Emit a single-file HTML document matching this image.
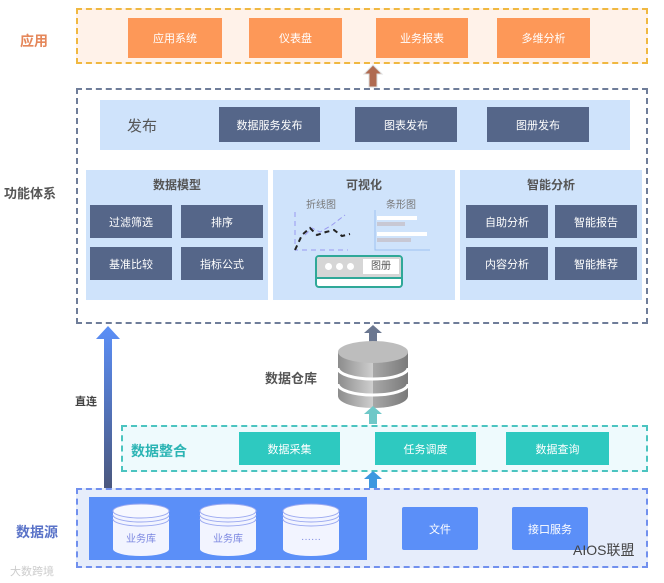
<!DOCTYPE html>
<html><head><meta charset="utf-8"><style>
*{margin:0;padding:0;box-sizing:border-box}
body{width:664px;height:583px;background:#fff;position:relative;overflow:hidden;font-family:"Liberation Sans","Noto Sans CJK SC",sans-serif}
.a{position:absolute}
.c{display:flex;align-items:center;justify-content:center;color:#fff;font-size:11px}
.or{background:#fd9858}
.dk{background:#556689}
.tl{background:#2ec9c0}
.bl{background:#5b8ff8}
.lb{font-weight:bold;font-size:13px}
</style></head><body>
<!-- app -->
<div class="a" style="left:76px;top:8px;width:572px;height:56px;border:2px dashed #f0b840;background:#fff2e9"></div>
<div class="a c or" style="left:128px;top:18px;width:94px;height:40px">应用系统</div>
<div class="a c or" style="left:249px;top:18px;width:93px;height:40px">仪表盘</div>
<div class="a c or" style="left:376px;top:18px;width:92px;height:40px">业务报表</div>
<div class="a c or" style="left:497px;top:18px;width:93px;height:40px">多维分析</div>
<div class="a lb" style="left:20px;top:31px;color:#e5875a;font-size:14px">应用</div>
<svg class="a" style="left:362px;top:64px" width="22" height="24"><polygon points="11,1 20,10 15,10 15,23 7,23 7,10 2,10" fill="#b06a50" stroke="#ddd"/></svg>
<!-- function -->
<div class="a" style="left:76px;top:88px;width:572px;height:236px;border:2px dashed #6f7d99"></div>
<div class="a lb" style="left:4px;top:183px;color:#555">功能体系</div>
<div class="a" style="left:100px;top:100px;width:530px;height:50px;background:#cfe3fb"></div>
<div class="a" style="left:127px;top:115px;font-size:15px;color:#555">发布</div>
<div class="a c dk" style="left:219px;top:107px;width:101px;height:35px">数据服务发布</div>
<div class="a c dk" style="left:355px;top:107px;width:102px;height:35px">图表发布</div>
<div class="a c dk" style="left:487px;top:107px;width:102px;height:35px">图册发布</div>
<div class="a" style="left:86px;top:170px;width:182px;height:130px;background:#cfe3fb"></div>
<div class="a" style="left:273px;top:170px;width:182px;height:130px;background:#cfe3fb"></div>
<div class="a" style="left:460px;top:170px;width:182px;height:130px;background:#cfe3fb"></div>
<div class="a" style="left:86px;top:176px;width:182px;text-align:center;font-size:12px;color:#555;font-weight:bold">数据模型</div>
<div class="a" style="left:273px;top:176px;width:182px;text-align:center;font-size:12px;color:#555;font-weight:bold">可视化</div>
<div class="a" style="left:460px;top:176px;width:182px;text-align:center;font-size:12px;color:#555;font-weight:bold">智能分析</div>
<div class="a c dk" style="left:90px;top:205px;width:82px;height:33px">过滤筛选</div>
<div class="a c dk" style="left:181px;top:205px;width:82px;height:33px">排序</div>
<div class="a c dk" style="left:90px;top:247px;width:82px;height:33px">基准比较</div>
<div class="a c dk" style="left:181px;top:247px;width:82px;height:33px">指标公式</div>
<div class="a c dk" style="left:466px;top:205px;width:82px;height:33px">自助分析</div>
<div class="a c dk" style="left:555px;top:205px;width:82px;height:33px">智能报告</div>
<div class="a c dk" style="left:466px;top:247px;width:82px;height:33px">内容分析</div>
<div class="a c dk" style="left:555px;top:247px;width:82px;height:33px">智能推荐</div>
<div class="a" style="left:306px;top:196px;font-size:10px;color:#777">折线图</div>
<div class="a" style="left:386px;top:196px;font-size:10px;color:#777">条形图</div>
<svg class="a" style="left:290px;top:210px" width="150" height="50">
<path d="M5,2 V40 H58" stroke="#9a9af0" stroke-dasharray="5,4" fill="none"/>
<path d="M15,25 L22,18 L30,22 L42,15 L55,5" stroke="#9a9af0" stroke-dasharray="5,3" fill="none"/>
<path d="M5,40 L12,25 L20,18 L27,25 L36,22 L44,20 L52,26 L60,24" stroke="#222" stroke-width="2" stroke-dasharray="5,4" fill="none"/>
<path d="M85,0 V40 H140" stroke="#9cc0f0" fill="none"/>
<rect x="87" y="6" width="40" height="4" fill="#fff"/><rect x="87" y="12" width="28" height="4" fill="#c8c8d4"/>
<rect x="87" y="22" width="50" height="4" fill="#fff"/><rect x="87" y="28" width="34" height="4" fill="#c8c8d4"/>
</svg>
<div class="a" style="left:315px;top:255px;width:88px;height:33px;border:2px solid #2fa898;border-radius:4px;background:#fff;overflow:hidden">
<div style="height:20px;background:#d6d6d6;position:relative">
<span style="position:absolute;left:8px;top:6px;width:7px;height:7px;border-radius:50%;background:#fff"></span>
<span style="position:absolute;left:19px;top:6px;width:7px;height:7px;border-radius:50%;background:#fff"></span>
<span style="position:absolute;left:30px;top:6px;width:7px;height:7px;border-radius:50%;background:#fff"></span>
<span style="position:absolute;left:46px;top:2px;width:36px;height:15px;background:#fff;font-size:10px;color:#555;text-align:center;line-height:15px">图册</span>
</div><div style="height:2px;background:#2fa898"></div></div>
<!-- direct arrow -->
<svg class="a" style="left:95px;top:325px" width="26" height="172"><defs><linearGradient id="g" x1="0" y1="0" x2="0" y2="1"><stop offset="0" stop-color="#5b8ff8"/><stop offset="1" stop-color="#4a5578"/></linearGradient></defs>
<polygon points="13,1 25,14 17,14 17,171 9,171 9,14 1,14" fill="url(#g)"/></svg>
<div class="a" style="left:75px;top:393px;font-size:11px;font-weight:bold;color:#444">直连</div>
<!-- warehouse -->
<svg class="a" style="left:362px;top:324px" width="22" height="20"><polygon points="11,1 20,9 15,9 15,19 7,19 7,9 2,9" fill="#6b7790"/></svg>
<div class="a lb" style="left:265px;top:368px;color:#555">数据仓库</div>
<svg class="a" style="left:336px;top:340px" width="74" height="70">
<defs><linearGradient id="cy" x1="0" x2="1"><stop offset="0" stop-color="#8c8c8c"/><stop offset=".5" stop-color="#cfcfcf"/><stop offset=".5" stop-color="#a8a8a8"/><stop offset="1" stop-color="#7a7a7a"/></linearGradient></defs>
<path d="M2,12 V56 A35,12 0 0 0 72,56 V12" fill="url(#cy)"/>
<ellipse cx="37" cy="12" rx="35" ry="11" fill="#bdbdbd"/>
<path d="M2,28 A35,11 0 0 0 72,28" stroke="#fff" stroke-width="3" fill="none"/>
<path d="M2,44 A35,11 0 0 0 72,44" stroke="#fff" stroke-width="3" fill="none"/>
</svg>
<svg class="a" style="left:362px;top:405px" width="22" height="20"><polygon points="11,1 20,9 15,9 15,19 7,19 7,9 2,9" fill="#6fc8c8"/></svg>
<!-- integration -->
<div class="a" style="left:121px;top:425px;width:527px;height:47px;border:2px dashed #4bc4c0;background:#eefafd"></div>
<div class="a lb" style="left:131px;top:441px;color:#2bb4b4;font-size:14px">数据整合</div>
<div class="a c tl" style="left:239px;top:432px;width:101px;height:33px">数据采集</div>
<div class="a c tl" style="left:375px;top:432px;width:101px;height:33px">任务调度</div>
<div class="a c tl" style="left:506px;top:432px;width:103px;height:33px">数据查询</div>
<svg class="a" style="left:362px;top:470px" width="22" height="19"><polygon points="11,1 20,9 15,9 15,18 7,18 7,9 2,9" fill="#3c98e0"/></svg>
<!-- source -->
<div class="a" style="left:76px;top:488px;width:572px;height:80px;border:2px dashed #7190ee;background:#e6edfb"></div>
<div class="a lb" style="left:16px;top:522px;color:#5a73c8;font-size:14px">数据源</div>
<div class="a bl" style="left:89px;top:497px;width:278px;height:63px"></div>
<svg class="a" style="left:110px;top:503px" width="240" height="54">
<g id="cyl"><path d="M3,8 V46 A28,7 0 0 0 59,46 V8" fill="#f2f4ff"/><ellipse cx="31" cy="8" rx="28" ry="7" fill="#f7f8ff" stroke="#9aa8f0"/><path d="M3,12 A28,7 0 0 0 59,12 M3,16 A28,7 0 0 0 59,16" stroke="#9aa8f0" fill="none"/></g>
<use href="#cyl" x="87"/><use href="#cyl" x="170"/>
<text x="31" y="39" font-size="10" fill="#7a86e0" text-anchor="middle" font-family="Noto Sans CJK SC">业务库</text>
<text x="118" y="39" font-size="10" fill="#7a86e0" text-anchor="middle" font-family="Noto Sans CJK SC">业务库</text>
<text x="201" y="39" font-size="10" fill="#7a86e0" text-anchor="middle">······</text>
</svg>
<div class="a c bl" style="left:402px;top:507px;width:76px;height:43px;border-radius:2px">文件</div>
<div class="a c bl" style="left:512px;top:507px;width:76px;height:43px;border-radius:2px">接口服务</div>
<div class="a" style="left:573px;top:540px;font-size:14px;color:#444">AIOS联盟</div>
<div class="a" style="left:10px;top:563px;font-size:11px;color:#ccc">大数跨境</div>
</body></html>
